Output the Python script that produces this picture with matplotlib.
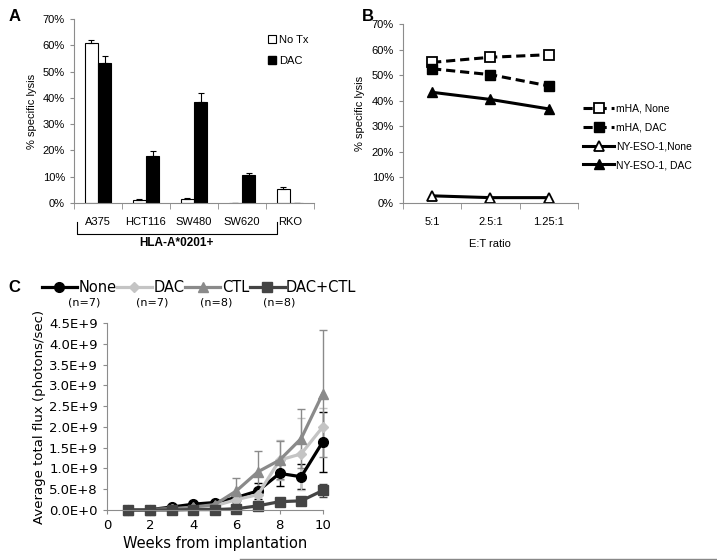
import numpy as np
import matplotlib
matplotlib.use('Agg')
import matplotlib.pyplot as plt
from matplotlib.patches import Patch
from matplotlib.lines import Line2D
from matplotlib.ticker import FuncFormatter, MultipleLocator

# ---- panel A data ----
cell_lines = ['A375', 'HCT116', 'SW480', 'SW620', 'RKO']
notx = [61.0, 1.2, 1.6, 0.0, 5.2]
notx_err = [1.0, 0.3, 0.4, 0.0, 0.9]
dac = [53.2, 18.0, 38.3, 10.8, 0.0]
dac_err = [2.7, 1.6, 3.4, 0.5, 0.0]

# ---- panel B data ----
ratios = ['5:1', '2.5:1', '1.25:1']
mha_none = [55.0, 57.0, 58.0]
mha_dac = [52.5, 50.2, 45.8]
nyeso_none = [2.8, 2.1, 2.1]
nyeso_dac = [43.3, 40.5, 36.8]

# ---- panel C data ----
weeks = [1, 2, 3, 4, 5, 6, 7, 8, 9, 10]
none_flux = [0.0, 0.01e9, 0.07e9, 0.14e9, 0.18e9, 0.30e9, 0.46e9, 0.88e9, 0.80e9, 1.64e9]
none_err = [0.0, 0.0, 0.01e9, 0.02e9, 0.03e9, 0.08e9, 0.20e9, 0.30e9, 0.30e9, 0.72e9]
dac_flux = [0.0, 0.01e9, 0.02e9, 0.05e9, 0.10e9, 0.25e9, 0.37e9, 1.20e9, 1.35e9, 2.00e9]
dac_ferr = [0.0, 0.0, 0.01e9, 0.02e9, 0.03e9, 0.10e9, 0.15e9, 0.48e9, 0.86e9, 0.45e9]
ctl_flux = [0.0, 0.01e9, 0.03e9, 0.07e9, 0.13e9, 0.46e9, 0.92e9, 1.20e9, 1.72e9, 2.80e9]
ctl_err = [0.0, 0.0, 0.01e9, 0.02e9, 0.05e9, 0.30e9, 0.50e9, 0.45e9, 0.70e9, 1.53e9]
combo_flux = [0.0, 0.0, 0.0, 0.01e9, 0.01e9, 0.03e9, 0.10e9, 0.20e9, 0.22e9, 0.47e9]
combo_err = [0.0, 0.0, 0.0, 0.0, 0.0, 0.01e9, 0.03e9, 0.05e9, 0.05e9, 0.15e9]
group_n = ['(n=7)', '(n=7)', '(n=8)', '(n=8)']

axcol = '#8c8c8c'
sfont = 'Liberation Sans'
fs = 8

fig = plt.figure(figsize=(7.17, 5.6), dpi=100)

# =============== A ===============
axA = fig.add_axes([0.1032, 0.6375, 0.3347, 0.3286])
x = np.arange(len(cell_lines))
w = 0.28
axA.bar(x - w / 2, notx, w, color='white', edgecolor='black', linewidth=0.8,
        yerr=[np.zeros(len(notx)), notx_err], error_kw=dict(ecolor='black', elinewidth=0.8, capsize=2.5, capthick=0.8))
axA.bar(x + w / 2, dac, w, color='black', edgecolor='black', linewidth=0.8,
        yerr=[np.zeros(len(dac)), dac_err], error_kw=dict(ecolor='black', elinewidth=0.8, capsize=2.5, capthick=0.8))
axA.set_xlim(-0.5, 4.5)
axA.set_ylim(0, 70)
axA.yaxis.set_major_locator(MultipleLocator(10))
axA.yaxis.set_major_formatter(FuncFormatter(lambda v, p: f'{v:.0f}%'))
axA.set_xticks(x)
axA.set_xticklabels(cell_lines, fontsize=fs, family=sfont)
axA.set_xticks(np.arange(-0.5, 5.0, 1.0), minor=True)
axA.tick_params(axis='x', which='major', length=0, pad=10)
axA.tick_params(axis='x', which='minor', length=4, color=axcol, direction='out')
axA.tick_params(axis='y', length=3, color=axcol, labelsize=fs)
for lab in axA.get_yticklabels():
    lab.set_family(sfont)
for s in ['top', 'right']:
    axA.spines[s].set_visible(False)
for s in ['left', 'bottom']:
    axA.spines[s].set_color(axcol)
axA.set_ylabel('% specific lysis', fontsize=fs, family=sfont, labelpad=4)
axA.legend(handles=[Patch(facecolor='white', edgecolor='black', linewidth=0.8, label='No Tx'),
                    Patch(facecolor='black', edgecolor='black', label='DAC')],
           loc='upper right', bbox_to_anchor=(1.02, 0.97), frameon=False, prop=dict(family=sfont, size=fs),
           handlelength=0.7, handleheight=0.7, handletextpad=0.3, labelspacing=1.0)
# bracket under the HLA-A*0201+ lines
tr = axA.get_xaxis_transform()
axA.plot([-0.44, -0.44, 3.73, 3.73], [-0.103, -0.168, -0.168, -0.103], color='black', lw=0.8,
         transform=tr, clip_on=False)
axA.text(1.64, -0.22, 'HLA-A*0201+', transform=tr, ha='center', va='center', fontsize=8.5,
         fontweight='bold', family=sfont)
fig.text(0.012, 0.97, 'A', fontsize=12, fontweight='bold', family=sfont, va='center')

# =============== B ===============
axB = fig.add_axes([0.562, 0.6375, 0.244, 0.3196])
xb = np.arange(len(ratios))
lw = 2.2
axB.plot(xb, mha_none, '--', color='black', lw=lw, dashes=(3, 1.6), marker='s', ms=6.5,
         mfc='white', mec='black', mew=1.3, label='mHA, None')
axB.plot(xb, mha_dac, '--', color='black', lw=lw, dashes=(3, 1.6), marker='s', ms=6.5,
         mfc='black', mec='black', label='mHA, DAC')
axB.plot(xb, nyeso_none, '-', color='black', lw=lw, marker='^', ms=7,
         mfc='white', mec='black', mew=1.3, label='NY-ESO-1,None')
axB.plot(xb, nyeso_dac, '-', color='black', lw=lw, marker='^', ms=7,
         mfc='black', mec='black', label='NY-ESO-1, DAC')
axB.set_xlim(-0.5, 2.5)
axB.set_ylim(0, 70)
axB.yaxis.set_major_locator(MultipleLocator(10))
axB.yaxis.set_major_formatter(FuncFormatter(lambda v, p: f'{v:.0f}%'))
axB.set_xticks(xb)
axB.set_xticklabels(ratios, fontsize=fs, family=sfont)
axB.set_xticks(np.arange(-0.5, 3.0, 1.0), minor=True)
axB.tick_params(axis='x', which='major', length=0, pad=10)
axB.tick_params(axis='x', which='minor', length=4, color=axcol, direction='out')
axB.tick_params(axis='y', length=3, color=axcol, labelsize=fs)
for lab in axB.get_yticklabels():
    lab.set_family(sfont)
for s in ['top', 'right']:
    axB.spines[s].set_visible(False)
for s in ['left', 'bottom']:
    axB.spines[s].set_color(axcol)
axB.set_xlabel('E:T ratio', fontsize=fs, family=sfont, labelpad=9)
axB.set_ylabel('% specific lysis', fontsize=fs, family=sfont, labelpad=5)
axB.legend(loc='center left', bbox_to_anchor=(1.03, 0.37), frameon=False,
           prop=dict(family=sfont, size=7.5), handlelength=3.0, handletextpad=0.15,
           labelspacing=0.85, borderaxespad=0, borderpad=0)
fig.text(0.505, 0.97, 'B', fontsize=12, fontweight='bold', family=sfont, va='center')

# =============== C ===============
axC = fig.add_axes([0.149, 0.0893, 0.3012, 0.334])
series = [
    ('None', none_flux, none_err, 'black', 'o', 7),
    ('DAC', dac_flux, dac_ferr, '#c4c4c4', 'D', 5.5),
    ('CTL', ctl_flux, ctl_err, '#8a8a8a', '^', 7.5),
    ('DAC+CTL', combo_flux, combo_err, '#444444', 's', 7),
]
handles = []
for name, vals, err, col, mk, ms in series:
    axC.errorbar(weeks, vals, yerr=err, color=col, lw=2.3, marker=mk, ms=ms, mec=col, mfc=col,
                 elinewidth=1.0, capsize=3, capthick=1.0, clip_on=False)
    handles.append(Line2D([], [], color=col, lw=2.3, marker=mk, ms=ms, mec=col, mfc=col, label=name))
axC.set_xlim(0, 10)
axC.set_ylim(0, 4.5e9)
axC.xaxis.set_major_locator(MultipleLocator(2))
axC.yaxis.set_major_locator(MultipleLocator(0.5e9))


def sci(v, p):
    if v == 0:
        return '0.0E+0'
    e = int(np.floor(np.log10(abs(v)) + 1e-9))
    return f'{v / 10 ** e:.1f}E+{e}'


axC.yaxis.set_major_formatter(FuncFormatter(sci))
axC.tick_params(axis='both', length=3, color=axcol, labelsize=9.5)
for s in ['top', 'right']:
    axC.spines[s].set_visible(False)
for s in ['left', 'bottom']:
    axC.spines[s].set_color(axcol)
axC.set_xlabel('Weeks from implantation', fontsize=10.5, labelpad=3)
axC.set_ylabel('Average total flux (photons/sec)', fontsize=9.5, labelpad=2)
fig.legend(handles=handles, loc='center left', bbox_to_anchor=(0.05, 0.487), ncol=4, frameon=False,
           fontsize=10.5, handlelength=2.4, handletextpad=0.1, columnspacing=0.05, borderaxespad=0)
for txt, xp in zip(group_n, [0.118, 0.212, 0.302, 0.39]):
    fig.text(xp, 0.459, txt, fontsize=8, ha='center', va='center')
fig.text(0.012, 0.487, 'C', fontsize=12, fontweight='bold', family=sfont, va='center')

# thin rule across the bottom
fig.add_artist(Line2D([240 / 717, 1.0], [1.5 / 560, 1.5 / 560], color='#888888', lw=1.0,
                      transform=fig.transFigure))

plt.savefig('out.png', dpi=100)
